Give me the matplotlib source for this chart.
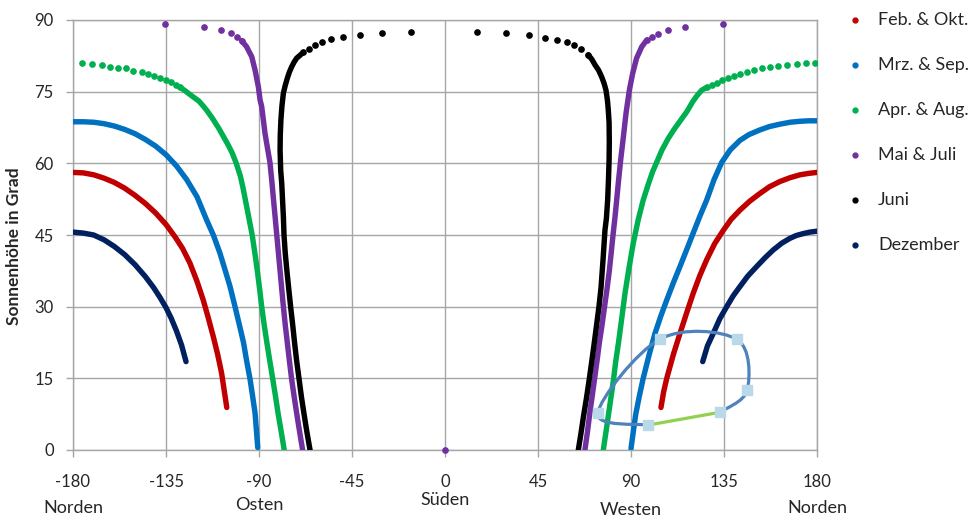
import matplotlib
matplotlib.use("Agg")
import matplotlib.pyplot as plt
from matplotlib.path import Path
from matplotlib.patches import PathPatch
from matplotlib.lines import Line2D

# ---------------- data (azimuth in degrees, altitude in degrees) ----------------
# Dezember
dez_o_az = [-180, -175, -170, -165, -160, -155, -150, -145, -141, -138, -135, -132.5, -130,
            -127.5, -125.3]
dez_o_h = [45.6, 45.4, 45.0, 44.0, 42.6, 40.9, 38.8, 36.3, 34.0, 32.0, 29.8, 27.6, 25.0,
           22.0, 18.5]
dez_w_az = [124.7, 127, 129.8, 133, 136.3, 139.5, 142.7, 146.5, 150.8, 155, 158.9, 163,
            166.9, 170, 173.4, 176.5, 180]
dez_w_h = [18.5, 21.8, 24.4, 27.5, 30.0, 32.3, 34.2, 36.4, 38.4, 40.3, 41.9, 43.3,
           44.3, 44.9, 45.3, 45.6, 45.8]

# Feb. & Okt.
feb_o_az = [-180, -175, -170, -165, -160, -155, -150, -145, -140, -135, -130.6, -127, -123.4,
            -120, -117, -114.5, -112.1, -110, -108.1, -105.6]
feb_o_h = [58.1, 58.0, 57.6, 56.9, 56.0, 54.8, 53.3, 51.6, 49.6, 47.2, 44.6, 42.2, 39.1,
           35.3, 31.4, 27.6, 23.7, 20.0, 16.1, 8.9]
feb_w_az = [104.5, 105.8, 107.3, 110.5, 113.7, 117, 120.1, 123.3, 126.6, 130.5, 134.7,
            138.5, 142.7, 147.5, 152.4, 157, 162.1, 167, 171.8, 176, 180]
feb_w_h = [8.9, 12.2, 15.0, 20.0, 24.4, 28.8, 32.8, 36.5, 39.8, 43.2, 46.0,
           48.3, 50.2, 52.1, 53.7, 55.1, 56.2, 57.0, 57.6, 57.9, 58.1]

# Mrz. & Sep.
mrz_o_az = [-180, -175, -170, -165, -160, -155, -150, -145, -140, -135, -130, -125, -120,
            -115.3, -112, -108.9, -106.5, -104, -101.6, -99.5, -97.5, -96, -94.4, -93.1,
            -91.9, -90.6]
mrz_o_h = [68.7, 68.7, 68.6, 68.3, 67.8, 67.1, 66.2, 65.0, 63.6, 61.8, 59.5, 56.6, 53.0,
           48.1, 44.9, 41.2, 37.8, 34.2, 30.0, 26.2, 22.5, 18.7, 15.0, 11.3,
           7.7, 0.5]
mrz_w_az = [90.0, 91.1, 92.3, 94.0, 95.9, 98.7, 101.6, 104.4, 107.3, 110.5, 113.7, 117,
            120.1, 123.3, 126.6, 130.2, 133.9, 138, 142.7, 147, 152.4, 157, 162.1, 167,
            171.8, 176, 180]
mrz_w_h = [0.3, 3.8, 7.5, 11.2, 15.0, 19.8, 24.4, 28.0, 31.4, 35.0, 38.4, 42.0,
           45.4, 48.9, 52.3, 56.6, 60.2, 62.8, 64.8, 66.0, 67.0, 67.7, 68.2, 68.6,
           68.8, 68.9, 68.9]

# Apr. & Aug.
apr_o_pkt_az = [-175.8, -171.0, -166.1, -162.1, -158.1, -154.4, -150.8, -146.8, -143.6,
                -140.7, -137.9, -135.2, -132.7, -130.3, -128.2]
apr_o_pkt_h = [81.0, 80.8, 80.5, 80.2, 80.0, 79.9, 79.4, 79.1, 78.7,
               78.3, 77.9, 77.4, 77.0, 76.4, 75.9]
apr_o_az = [-128.2, -126.1, -124.0, -121.5, -119, -117, -115.3, -112.5, -109.7, -107.2, -105,
            -103, -101, -99, -97.8, -96.8, -95, -93.3, -92, -90.8, -89.7, -88.7, -87.5,
            -86.2, -84.8, -83.4, -82, -80.7, -79.2, -77.8]
apr_o_h = [75.9, 75.3, 74.6, 73.8, 73.0, 72.0, 71.1, 69.4, 67.5, 65.6, 63.9,
           62.2, 60.0, 57.3, 55.0, 52.8, 48.8, 45.0, 41.2, 37.5, 33.7, 30.0, 26.2,
           22.5, 18.7, 15.0, 11.2, 7.5, 3.7, 0.0]
apr_w_pkt_az = [179.2, 174.7, 170.2, 165.6, 161.3, 157.3, 153.5, 149.7, 146.0,
                142.7, 139.8, 137.1, 134.2, 131.5, 129.0, 126.6]
apr_w_pkt_h = [81.0, 81.0, 80.8, 80.6, 80.3, 80.1, 79.9, 79.5, 79.1,
               78.7, 78.3, 77.9, 77.4, 76.9, 76.4, 75.9]
apr_w_az = [126.6, 124.2, 122, 120, 117, 114, 111, 108, 105, 102.5, 100.5, 98.5, 95.9, 93.5,
            91.1, 89, 87.1, 85.5, 83.9, 82.6, 81.5, 79.8, 78.2, 76.6]
apr_w_h = [75.9, 75.3, 74.2, 73.0, 70.8, 69.0, 67.2, 65.2, 62.8, 60.3, 58.3, 55.8, 52.3, 48.2,
           43.3, 38.0, 32.8, 27.5, 22.3, 18.5, 14.6, 9.5, 4.7, 0.0]

# Mai & Juli
mai_o_pkt_az = [-135.5, -116.6, -108.4, -103.7, -100.8, -98.4]
mai_o_pkt_h = [89.2, 88.5, 87.9, 87.2, 86.5, 85.7]
mai_o_az = [-98.4, -96.0, -93.5, -91.9, -90.3, -89.5, -88.7, -87.1, -85.9, -84.7, -83.8, -83.0,
            -82.2, -81.4, -80.6, -79.8, -79.0, -78.2, -77.3, -76.3, -75.3, -74.2, -73.0,
            -71.7, -70.3, -68.9]
mai_o_h = [85.7, 84.4, 82.3, 79.5, 76.0, 73.3, 71.9, 66.3, 63.2, 60.2, 56.3, 52.5,
           48.8, 45.0, 41.2, 37.5, 33.7, 30.0, 26.2, 22.5, 18.7, 14.8, 11.2,
           7.5, 3.7, 0.0]
mai_w_pkt_az = [134.5, 116.1, 107.7, 103.2, 100.0, 97.6]
mai_w_pkt_h = [89.2, 88.6, 87.9, 87.1, 86.5, 85.8]
mai_w_az = [97.6, 95.2, 92.7, 90.8, 89.2, 87.6, 86.3, 85.0, 84.0, 83.0, 82.2, 81.3, 80.4,
            79.5, 78.4, 77.2, 76.0, 74.7, 73.6, 72.4, 71.2, 70.0, 68.9, 67.7]
mai_w_h = [85.8, 84.4, 82.0, 78.8, 75.3, 70.5, 65.5, 60.7, 56.5, 52.0, 48.5, 45.0, 41.2,
           37.5, 33.7, 30.0, 26.2, 22.5, 18.8, 15.0, 11.2, 7.5, 3.7, 0.0]
mai_mittag_az = [0]
mai_mittag_h = [0]

# Juni
jun_o_pkt_az = [-16.6, -30.3, -41.0, -49.2, -55.2, -59.7, -62.8, -65.6, -68.6]
jun_o_pkt_h = [87.5, 87.3, 86.9, 86.4, 86.0, 85.3, 84.8, 83.9, 83.2]
jun_o_az = [-68.6, -70.2, -71.8, -73.0, -74.2, -75.3, -76.3, -77.3, -78.2, -78.9, -79.4,
            -79.7, -79.8, -79.5, -79.0, -78.6, -78.2, -77.9, -77.3, -76.5, -75.6, -74.7,
            -73.7, -72.8, -71.8, -70.6, -69.5, -68.2, -66.8, -65.3]
jun_o_h = [83.2, 82.6, 82.0, 81.2, 80.2, 79.1, 77.8, 76.3, 74.7, 72.0, 69.1,
           66.0, 62.8, 58.5, 55.8, 52.3, 48.8, 45.0, 41.2, 37.5, 33.7, 30.0,
           26.2, 22.5, 18.7, 14.8, 11.2, 7.5, 3.7, 0.0]
jun_w_pkt_az = [15.5, 29.5, 40.6, 48.4, 54.3, 58.9, 62.4, 65.8, 69.3]
jun_w_pkt_h = [87.5, 87.3, 86.9, 86.2, 85.9, 85.3, 84.8, 83.9, 82.7]
jun_w_az = [69.3, 71.0, 72.6, 74.3, 75.8, 77.0, 77.9, 78.6, 79.0, 79.4, 79.5, 79.4, 79.1,
            78.7, 78.1, 77.4, 76.5, 75.5, 74.5, 73.3, 72.1, 71.0, 69.8, 68.5, 67.0,
            65.8, 64.5]
jun_w_h = [82.7, 81.8, 80.6, 79.5, 78.1, 76.7, 75.3, 73.2, 71.2, 68.5, 64.5, 60.7, 56.5,
           52.3, 48.5, 46.0, 40.0, 34.0, 30.0, 26.0, 22.0, 18.5, 14.8, 11.0, 7.0,
           3.5, 0.0]

# Horizont-Hindernis (Kontur)
kontur_az = [133.1, 146.3, 141.1, 104.0, 73.9, 98.1]
kontur_h = [7.9, 12.6, 23.2, 23.2, 7.7, 5.2]
linie_az = [98.1, 133.1]
linie_h = [5.2, 7.9]

x_ticks = [-180, -135, -90, -45, 0, 45, 90, 135, 180]
y_ticks = [0, 15, 30, 45, 60, 75, 90]
richtungen = ["Norden", "Osten", "Süden", "Westen", "Norden"]
richtung_az = [-180, -90, 0, 90, 180]
legend_labels = ["Feb. & Okt.", "Mrz. & Sep.", "Apr. & Aug.", "Mai & Juli", "Juni", "Dezember"]

# ---------------- styling ----------------
plt.rcParams["font.family"] = ["Lato", "DejaVu Sans"]
C_FEB = "#C00000"
C_MRZ = "#0070C0"
C_APR = "#00B050"
C_MAI = "#7030A0"
C_JUN = "#000000"
C_DEZ = "#002060"
GRID = "#A6A6A6"
TXT = "#262626"

fig = plt.figure(figsize=(9.77, 5.20), dpi=100)
ax = fig.add_axes([73 / 977, 70 / 520, 744 / 977, 430 / 520])
ax.set_xlim(-180, 180)
ax.set_ylim(0, 90)

LW = 3.9
MS = 3.8


def curve(az, h, color, z):
    ax.plot(az, h, color=color, lw=LW, solid_capstyle="round", solid_joinstyle="round", zorder=z)


def dots(az, h, color, z):
    ax.plot(az, h, ls="none", marker="o", ms=MS, mfc=color, mec=color, zorder=z)


curve(feb_o_az, feb_o_h, C_FEB, 3)
curve(feb_w_az, feb_w_h, C_FEB, 3)
curve(mrz_o_az, mrz_o_h, C_MRZ, 4)
curve(mrz_w_az, mrz_w_h, C_MRZ, 4)
curve(apr_o_az, apr_o_h, C_APR, 5)
curve(apr_w_az, apr_w_h, C_APR, 5)
dots(apr_o_pkt_az, apr_o_pkt_h, C_APR, 5)
dots(apr_w_pkt_az, apr_w_pkt_h, C_APR, 5)
curve(mai_o_az, mai_o_h, C_MAI, 6)
curve(mai_w_az, mai_w_h, C_MAI, 6)
dots(mai_o_pkt_az, mai_o_pkt_h, C_MAI, 6)
dots(mai_w_pkt_az, mai_w_pkt_h, C_MAI, 6)
ax.plot(mai_mittag_az, mai_mittag_h, ls="none", marker="o", ms=MS, color=C_MAI, zorder=6,
        clip_on=False)
curve(jun_o_az, jun_o_h, C_JUN, 7)
curve(jun_w_az, jun_w_h, C_JUN, 7)
dots(jun_o_pkt_az, jun_o_pkt_h, C_JUN, 7)
dots(jun_w_pkt_az, jun_w_pkt_h, C_JUN, 7)
curve(dez_o_az, dez_o_h, C_DEZ, 8)
curve(dez_w_az, dez_w_h, C_DEZ, 8)

# smooth contour (Bezier through the points, like a smoothed scatter line)
pts = list(zip(kontur_az, kontur_h))
n = len(pts)
verts = [pts[0]]
codes = [Path.MOVETO]
for i in range(n - 1):
    p0 = pts[i - 1] if i > 0 else pts[i]
    p1 = pts[i]
    p2 = pts[i + 1]
    p3 = pts[i + 2] if i + 2 < n else pts[i + 1]
    c1 = (p1[0] + (p2[0] - p0[0]) / 6, p1[1] + (p2[1] - p0[1]) / 6)
    c2 = (p2[0] - (p3[0] - p1[0]) / 6, p2[1] - (p3[1] - p1[1]) / 6)
    verts += [c1, c2, p2]
    codes += [Path.CURVE4, Path.CURVE4, Path.CURVE4]
ax.add_patch(PathPatch(Path(verts, codes), fill=False, edgecolor="#4F81BD", lw=2.3, zorder=9,
                       capstyle="round"))
ax.plot(linie_az, linie_h, color="#92D050", lw=2.3, zorder=9)
ax.plot(kontur_az, kontur_h, ls="none", marker="s", ms=7, mfc="#B9D9E8", mec="#B9D9E8", zorder=10)

# axes / grid
ax.set_xticks(x_ticks)
ax.set_yticks(y_ticks)
ax.set_xticklabels([str(v) for v in x_ticks])
ax.set_yticklabels([str(v) for v in y_ticks])
ax.grid(True, color=GRID, lw=1.0, zorder=0)
ax.set_axisbelow(True)
for s in ax.spines.values():
    s.set_color(GRID)
    s.set_linewidth(1.0)
ax.tick_params(axis="both", colors=GRID, length=4.8, width=1.0, labelsize=12, labelcolor=TXT)
ax.tick_params(axis="x", pad=12.5)
ax.tick_params(axis="y", pad=9)

ax.set_ylabel("Sonnenhöhe in Grad", fontsize=12.5, fontweight="bold", color=TXT)
ax.yaxis.set_label_coords(-0.069, 0.475)

yoff = [-0.135, -0.128, -0.117, -0.140, -0.135]
tr = ax.get_xaxis_transform()
for az, lab, yy in zip(richtung_az, richtungen, yoff):
    ax.text(az, yy, lab, transform=tr, ha="center", va="center", fontsize=13, color=TXT)

# legend (manual, markers only)
cols = [C_FEB, C_MRZ, C_APR, C_MAI, C_JUN, C_DEZ]
for i, (lab, c) in enumerate(zip(legend_labels, cols)):
    yfig = 1 - (20 + 45 * i) / 520
    fig.add_artist(Line2D([855 / 977], [yfig], marker="o", ms=3.5, color=c, ls="none",
                          transform=fig.transFigure))
    fig.text(878 / 977, yfig, lab, ha="left", va="center", fontsize=13, color=TXT)

fig.savefig("out.png", dpi=100)
